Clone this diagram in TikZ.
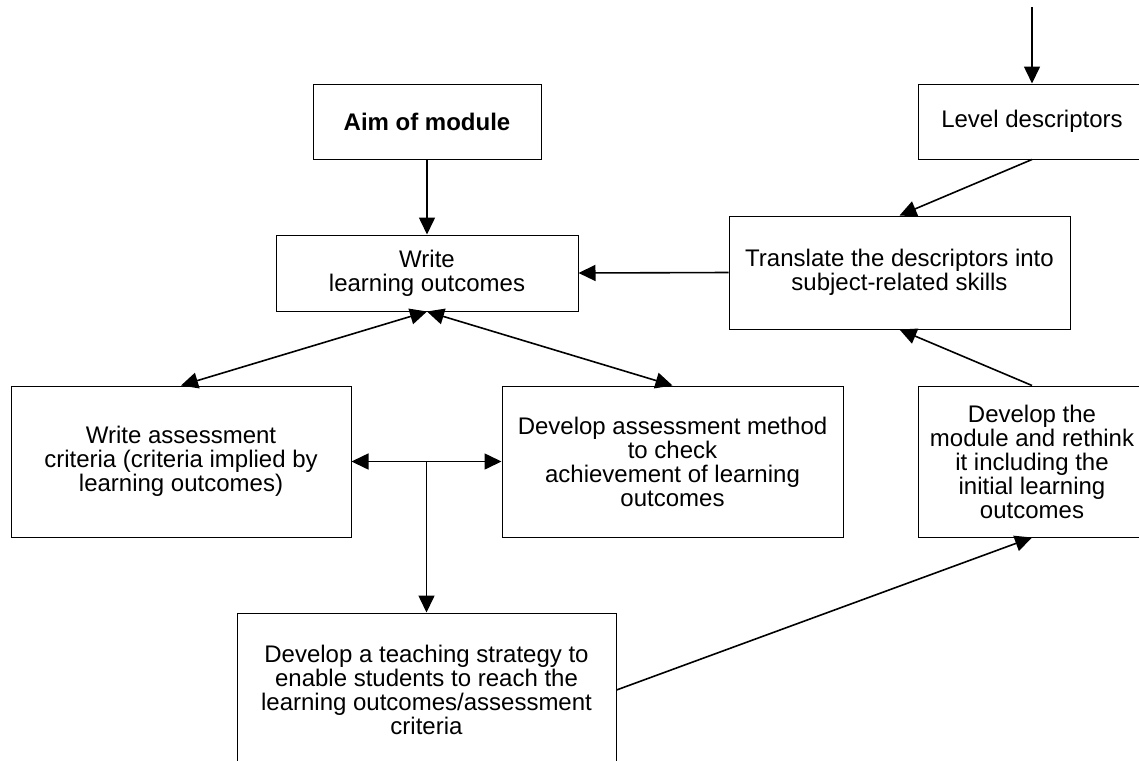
\documentclass[tikz,border=0pt]{standalone}
\usepackage{fontspec}
\setmainfont{Liberation Sans}
\usetikzlibrary{arrows.meta,calc}
\begin{document}
\begin{tikzpicture}[->,>={Triangle[length=8.5pt,width=8pt]}, line width=0.8pt, x=0.5pt, y=-0.5pt,
  caja/.style={draw, line width=0.5pt, inner sep=0pt, align=center, font=\fontsize{12}{12}\selectfont}]
\useasboundingbox (0,0) rectangle (1139,760);
\clip (0,0) rectangle (1139,760);
% Nodos
\node [caja, minimum width=114pt, minimum height=37.5pt, font=\fontsize{12}{12}\selectfont\bfseries] (aim) at (427,121.5) {Aim of module};
\node [caja, minimum width=114pt, minimum height=37.5pt] (lev) at (1032,121.5) {Level descriptors};
\node [caja, minimum width=151pt, minimum height=38pt] (lo) at (427,273) {Write\\learning outcomes};
\node [caja, minimum width=170.5pt, minimum height=56.5pt] (trans) at (899.5,272.5) {Translate the descriptors into\\subject-related skills};
\node [caja, minimum width=170pt, minimum height=75.5pt] (crit) at (181,461.5) {Write assessment\\criteria (criteria implied by\\learning outcomes)};
\node [caja, minimum width=170.5pt, minimum height=75.5pt] (meth) at (672.5,461.5) {Develop assessment method\\to check\\achievement of learning\\outcomes};
\node [caja, minimum width=114pt, minimum height=75.5pt] (mod) at (1032,461.5) {Develop the\\module and rethink\\it including the\\initial learning\\outcomes};
\node [caja, minimum width=189.5pt, minimum height=77pt] (teach) at (426.5,690) {Develop a teaching strategy to\\enable students to reach the\\learning outcomes/assessment\\criteria};
\coordinate (arriba) at (1032,7);
\coordinate (cruce) at ($(crit.east)!0.5!(meth.west)$);
% Flechas
\path (arriba) edge (lev.north);
\path (lev.south) edge (trans.north);
\path (trans.west) edge (lo.east);
\path (aim.south) edge (lo.north);
\path (lo.south) edge [<->] (crit.north);
\path (lo.south) edge [<->] (meth.north);
\path (crit.east) edge [<->] (meth.west);
\path (cruce) edge (teach.north);
\path (mod.north) edge (trans.south);
\path (teach.east) edge (mod.south);
\end{tikzpicture}
\end{document}
